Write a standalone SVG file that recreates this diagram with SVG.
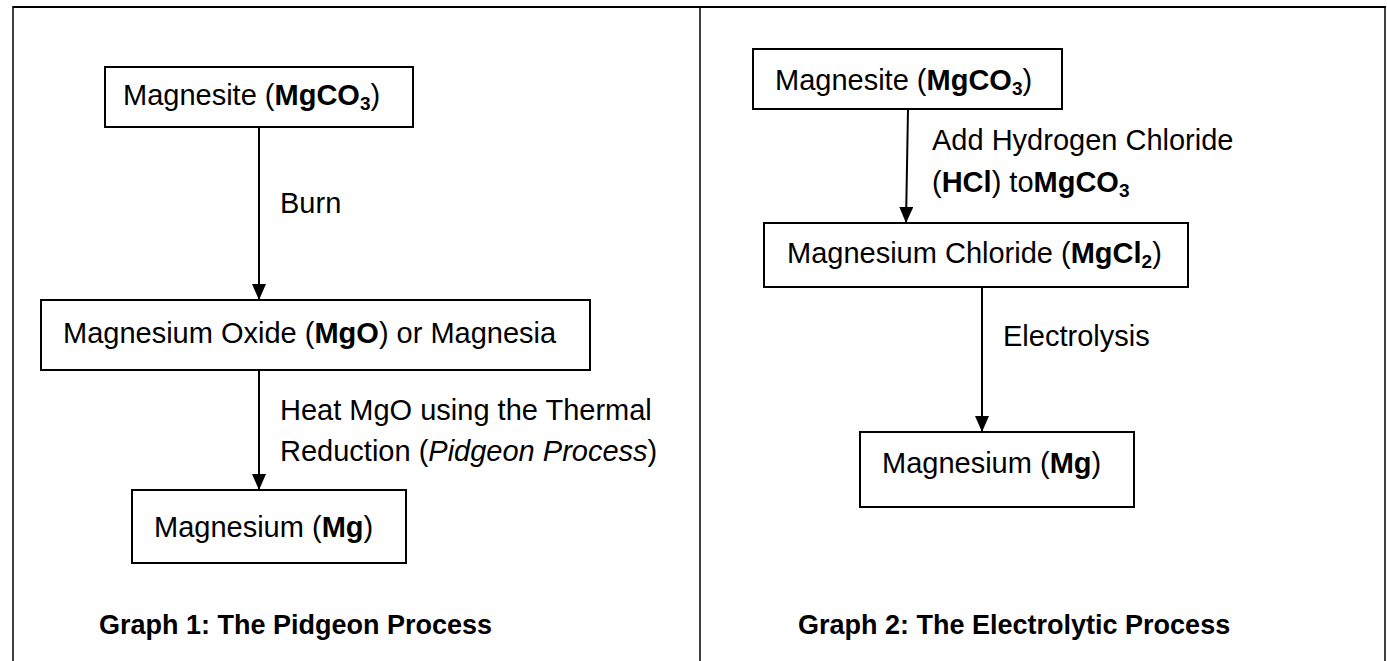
<svg xmlns="http://www.w3.org/2000/svg" width="1387" height="661" viewBox="0 0 1387 661">
<style>
.bg{fill:#fff}
.frame{stroke:#000;stroke-width:1.5;fill:none}
.box{fill:#fff;stroke:#000;stroke-width:2}
.t{font-family:"Liberation Sans",Arial,sans-serif;font-size:29px;fill:#000}
.b{font-weight:bold}
.i{font-style:italic}
.title{font-family:"Liberation Sans",Arial,sans-serif;font-size:27px;font-weight:bold;fill:#000}
.conn{stroke:#000;stroke-width:2;fill:none;marker-end:url(#ah)}
</style>
<defs>
<marker id="ah" viewBox="0 0 16 14" refX="16" refY="7" markerWidth="16" markerHeight="14" markerUnits="userSpaceOnUse" orient="auto">
<path d="M0,0 L16,7 L0,14 Z" fill="#000"/>
</marker>
</defs>
<rect class="bg" x="0" y="0" width="1387" height="661"/>
<g id="frame">
<line class="frame" x1="13" y1="7" x2="1386" y2="7" style="stroke-width:2"/>
<line class="frame" x1="13" y1="6" x2="13" y2="661"/>
<line class="frame" x1="700" y1="6" x2="700" y2="661"/>
<line class="frame" x1="1385" y1="6" x2="1385" y2="661"/>
</g>
<g id="connectors">
<line class="conn" x1="259" y1="127" x2="259" y2="300"/>
<line class="conn" x1="259" y1="370" x2="259" y2="490"/>
<line class="conn" x1="908" y1="109" x2="906" y2="223"/>
<line class="conn" x1="982" y1="287" x2="982" y2="432"/>
<text class="t" x="280" y="213">Burn</text>
<text class="t" x="280" y="420">Heat MgO using the Thermal</text>
<text class="t" x="280" y="461">Reduction (<tspan class="i">Pidgeon Process</tspan>)</text>
<text class="t" x="932" y="150">Add Hydrogen Chloride</text>
<text class="t" x="932" y="192">(<tspan class="b">HCl</tspan>) to<tspan class="b">MgCO<tspan font-size="19" dy="5">3</tspan></tspan></text>
<text class="t" x="1003" y="346">Electrolysis</text>
</g>
<g id="n1">
<rect class="box" x="105" y="67" width="308" height="60"/>
<text class="t" x="123" y="105">Magnesite (<tspan class="b">MgCO<tspan font-size="19" dy="5">3</tspan></tspan><tspan dy="-5">)</tspan></text>
</g>
<g id="n2">
<rect class="box" x="41" y="300" width="549" height="70"/>
<text class="t" x="63" y="343">Magnesium Oxide (<tspan class="b">MgO</tspan>) or Magnesia</text>
</g>
<g id="n3">
<rect class="box" x="132" y="490" width="274" height="73"/>
<text class="t" x="154" y="537">Magnesium (<tspan class="b">Mg</tspan>)</text>
</g>
<g id="n4">
<rect class="box" x="753" y="49" width="309" height="60"/>
<text class="t" x="775" y="90">Magnesite (<tspan class="b">MgCO<tspan font-size="19" dy="5">3</tspan></tspan><tspan dy="-5">)</tspan></text>
</g>
<g id="n5">
<rect class="box" x="764" y="223" width="424" height="64"/>
<text class="t" x="787" y="263">Magnesium Chloride (<tspan class="b">MgCl<tspan font-size="19" dy="5">2</tspan></tspan><tspan dy="-5">)</tspan></text>
</g>
<g id="n6">
<rect class="box" x="860" y="432" width="274" height="75"/>
<text class="t" x="882" y="473">Magnesium (<tspan class="b">Mg</tspan>)</text>
</g>
<g id="titles">
<text class="title" x="99" y="634">Graph 1: The Pidgeon Process</text>
<text class="title" x="798" y="634">Graph 2: The Electrolytic Process</text>
</g>
</svg>
